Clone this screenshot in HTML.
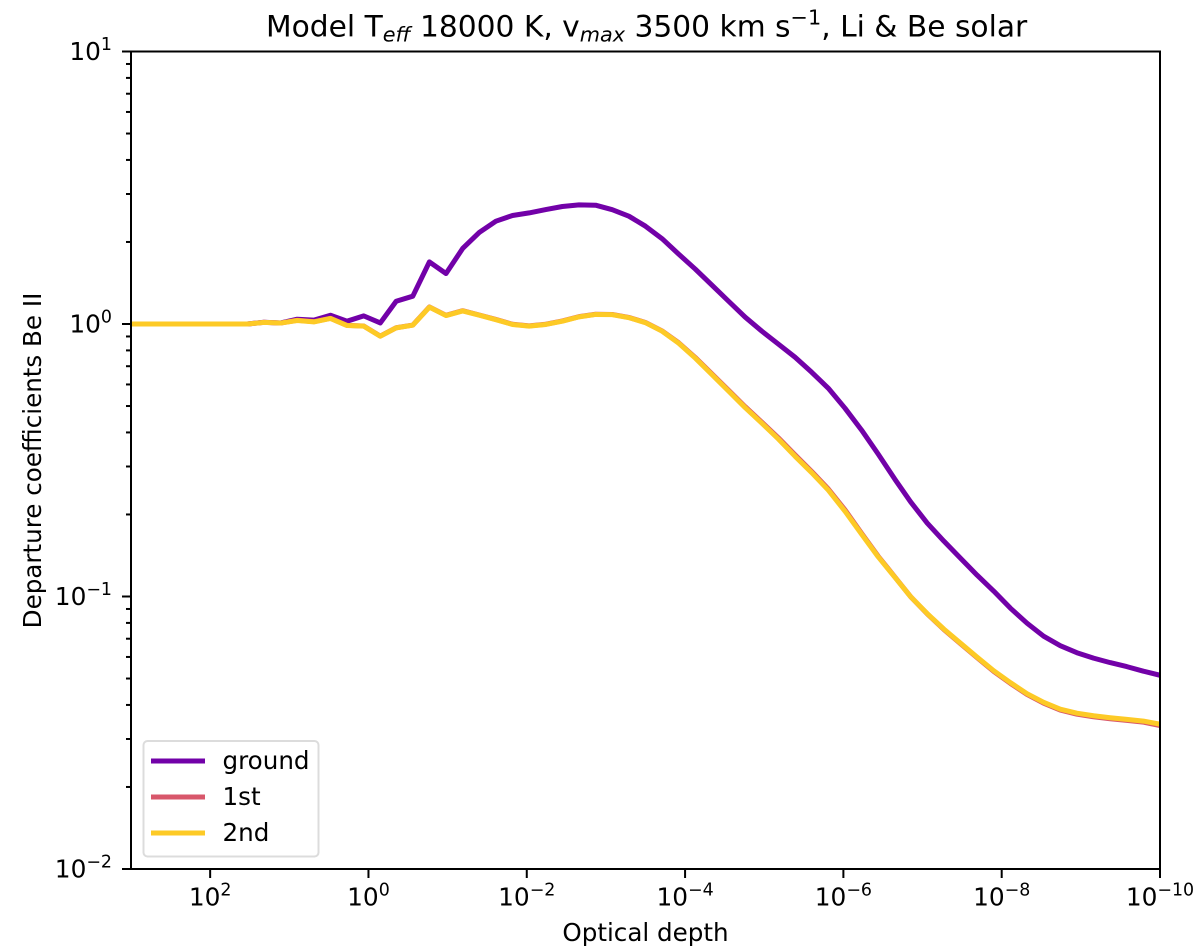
<!DOCTYPE html>
<html>
<head>
<meta charset="utf-8">
<title>Departure coefficients Be II</title>
<style>
html,body{margin:0;padding:0;background:#fff;width:1200px;height:951px;overflow:hidden}
svg{display:block}
text{font-family:"DejaVu Sans","Liberation Sans",sans-serif;fill:#000}
</style>
</head>
<body>
<svg id="chart" xmlns="http://www.w3.org/2000/svg" width="1200" height="951" viewBox="0 0 1200 951">
  <defs><clipPath id="plot-clip"><rect x="131" y="51.5" width="1029" height="817.5"/></clipPath></defs>
  <rect x="0" y="0" width="1200" height="951" fill="#fff"/>
  <text x="266" y="36.5" font-size="29.7" xml:space="preserve">Model T<tspan font-style="italic" font-size="20.8" dy="5">eff</tspan><tspan dy="-5"> 18000 K, v</tspan><tspan font-style="italic" font-size="20.8" dy="5">max</tspan><tspan dy="-5"> 3500 km s</tspan><tspan font-size="20.8" dy="-12">−1</tspan><tspan dy="12">, Li &amp; Be solar</tspan></text>
  <text transform="translate(41,460.5) rotate(-90)" text-anchor="middle" font-size="24.6">Departure coefficients Be II</text>
  <text x="645.5" y="941" text-anchor="middle" font-size="24.6">Optical depth</text>
  <g id="series-layer" clip-path="url(#plot-clip)"></g>
  <g id="tick-layer"></g>
  <g stroke="#000" stroke-width="2" fill="none">
    <line x1="131" y1="50.5" x2="131" y2="870"/>
    <line x1="1160" y1="50.5" x2="1160" y2="870"/>
    <line x1="130" y1="51.5" x2="1161" y2="51.5"/>
    <line x1="130" y1="869" x2="1161" y2="869"/>
  </g>
  <g>
    <rect x="143.5" y="741" width="175" height="115.5" rx="4" ry="4" fill="#fff" fill-opacity="0.8" stroke="#dcdcdc" stroke-width="2"/>
    <g>
      <line x1="151" y1="761" x2="205" y2="761" stroke="#7201a8" stroke-width="5"/>
      <text x="222.5" y="769" font-size="24.6">ground</text>
    </g>
    <g>
      <line x1="151" y1="797" x2="205" y2="797" stroke="#d8576b" stroke-width="5"/>
      <text x="222.5" y="805" font-size="24.6">1st</text>
    </g>
    <g>
      <line x1="151" y1="833" x2="205" y2="833" stroke="#fdca26" stroke-width="5"/>
      <text x="222.5" y="841" font-size="24.6">2nd</text>
    </g>
  </g>
</svg>
<script>
var depthExponents = [3.00,2.79,2.58,2.37,2.16,1.95,1.74,1.53,1.32,1.11,0.90,0.69,0.48,0.27,0.06,-0.15,-0.35,-0.56,-0.77,-0.98,-1.19,-1.40,-1.61,-1.82,-2.03,-2.24,-2.45,-2.66,-2.87,-3.08,-3.29,-3.50,-3.71,-3.92,-4.13,-4.34,-4.55,-4.76,-4.97,-5.18,-5.39,-5.60,-5.81,-6.02,-6.23,-6.44,-6.65,-6.85,-7.06,-7.27,-7.48,-7.69,-7.90,-8.11,-8.32,-8.53,-8.74,-8.95,-9.16,-9.37,-9.58,-9.79,-10.00];
var groundValues = [1.00,1.00,1.00,1.00,1.00,1.00,1.00,1.00,1.015,1.009,1.041,1.033,1.077,1.024,1.071,1.009,1.212,1.265,1.690,1.532,1.893,2.167,2.384,2.502,2.557,2.631,2.699,2.736,2.729,2.627,2.487,2.285,2.056,1.804,1.589,1.388,1.212,1.059,0.941,0.843,0.755,0.665,0.581,0.491,0.408,0.333,0.2695,0.2224,0.1858,0.1596,0.1382,0.1197,0.1046,0.0906,0.0798,0.0715,0.0660,0.0622,0.0594,0.0572,0.0553,0.0532,0.0514];
var firstValues = [1.00,1.00,1.00,1.00,1.00,1.00,1.00,1.00,1.014,1.008,1.032,1.020,1.049,0.988,0.983,0.903,0.969,0.991,1.155,1.076,1.119,1.079,1.039,0.998,0.984,0.998,1.026,1.064,1.086,1.084,1.057,1.013,0.943,0.853,0.753,0.656,0.571,0.497,0.436,0.382,0.331,0.2875,0.248,0.208,0.1705,0.1405,0.1180,0.0998,0.0863,0.0756,0.0671,0.0596,0.0531,0.0480,0.0437,0.0406,0.0383,0.0370,0.0362,0.0356,0.0351,0.0346,0.0336];
var secondValues = [1.00,1.00,1.00,1.00,1.00,1.00,1.00,1.00,1.014,1.008,1.030,1.018,1.048,0.987,0.982,0.902,0.968,0.990,1.153,1.074,1.117,1.077,1.037,0.996,0.982,0.996,1.024,1.062,1.084,1.082,1.055,1.011,0.941,0.850,0.749,0.652,0.567,0.493,0.4325,0.378,0.327,0.2847,0.2455,0.2056,0.1693,0.1398,0.1177,0.0998,0.0865,0.0759,0.0674,0.0599,0.0534,0.0483,0.0440,0.0409,0.0386,0.0373,0.0365,0.0359,0.0354,0.0349,0.0340];
var xTickExponents = [2,0,-2,-4,-6,-8,-10];
var yTickExponents = [1,0,-1,-2];
var yMinorMultipliers = [2,3,4,5,6,7,8,9];

var NS = 'http://www.w3.org/2000/svg';
var plotLeft = 131, plotRight = 1160, plotTop = 51.5, plotBottom = 869;
var xExpMax = 3, xExpMin = -10, yExpMax = 1, yExpMin = -2;

function xScale(exponent) {
  return plotLeft + (xExpMax - exponent) / (xExpMax - xExpMin) * (plotRight - plotLeft);
}
function yScale(value) {
  return plotBottom - (Math.log10(value) - yExpMin) / (yExpMax - yExpMin) * (plotBottom - plotTop);
}
function make(tag, parent) {
  var el = document.createElementNS(NS, tag);
  parent.appendChild(el);
  return el;
}
function drawSeries(values, color, name) {
  var layer = document.getElementById('series-layer');
  var line = make('polyline', layer);
  
  
  var pts = [];
  for (var i = 0; i < values.length; i++) {
    pts.push(xScale(depthExponents[i]).toFixed(2) + ',' + yScale(values[i]).toFixed(2));
  }
  line.setAttribute('points', pts.join(' '));
  line.setAttribute('fill', 'none');
  line.setAttribute('stroke', color);
  line.setAttribute('stroke-width', '5');
  line.setAttribute('stroke-linejoin', 'round');
}
function tickLine(layer, x1, y1, x2, y2, name) {
  var t = make('line', layer);
  
  
  t.setAttribute('x1', x1);
  t.setAttribute('y1', y1);
  t.setAttribute('x2', x2);
  t.setAttribute('y2', y2);
  t.setAttribute('stroke', '#000');
  t.setAttribute('stroke-width', '2');
}
function tickLabel(layer, exponent, x, y, anchor, name) {
  var label = make('text', layer);
  
  
  label.setAttribute('x', x);
  label.setAttribute('y', y);
  label.setAttribute('text-anchor', anchor);
  label.setAttribute('font-size', '24.8');
  label.appendChild(document.createTextNode('10'));
  var sup = make('tspan', label);
  sup.setAttribute('font-size', '17.4');
  sup.setAttribute('dy', '-10');
  sup.textContent = String(exponent).replace('-', '\u2212');
}
function drawAxes() {
  var layer = document.getElementById('tick-layer');
  xTickExponents.forEach(function (exponent) {
    var x = xScale(exponent);
    tickLine(layer, x, plotBottom, x, plotBottom + 9, 'x-tick-mark');
    tickLabel(layer, exponent, x, 905.5, 'middle', 'x-tick-label');
  });
  yTickExponents.forEach(function (exponent) {
    var y = yScale(Math.pow(10, exponent));
    tickLine(layer, plotLeft, y, plotLeft - 9, y, 'y-tick-mark');
    tickLabel(layer, exponent, 112, y + 8.5, 'end', 'y-tick-label');
    if (exponent > yExpMin) {
      yMinorMultipliers.forEach(function (m) {
        var my = yScale(m * Math.pow(10, exponent - 1));
        tickLine(layer, plotLeft, my, plotLeft - 5, my, 'y-minor-tick');
      });
    }
  });
}
drawSeries(groundValues, '#7201a8', 'series-ground');
drawSeries(firstValues, '#d8576b', 'series-1st');
drawSeries(secondValues, '#fdca26', 'series-2nd');
drawAxes();
</script>
</body>
</html>
